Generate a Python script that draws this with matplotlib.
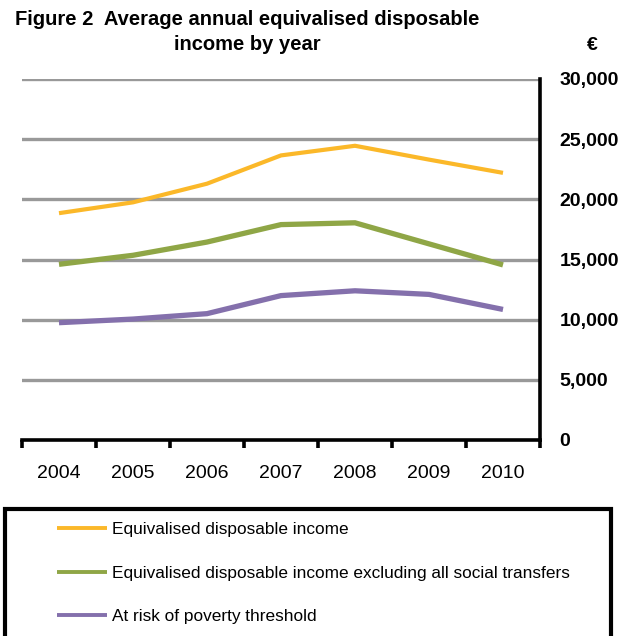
import matplotlib
matplotlib.use("Agg")
import matplotlib.pyplot as plt
from matplotlib.patches import Rectangle
from matplotlib.ticker import FuncFormatter, FixedLocator

plt.rcParams['font.family'] = ['Liberation Sans', 'DejaVu Sans']

years = ["2004", "2005", "2006", "2007", "2008", "2009", "2010"]
disposable = [18850, 19750, 21300, 23650, 24450, 23300, 22200]
excl_transfers = [14600, 15350, 16450, 17900, 18050, 16300, 14550]
poverty_threshold = [9750, 10050, 10500, 12000, 12400, 12100, 10850]
series_names = ["Equivalised disposable income",
                "Equivalised disposable income excluding all social transfers",
                "At risk of poverty threshold"]
colors = ["#FBB829", "#8FA646", "#8470AC"]
widths = [3.0, 3.8, 3.8]
yticks = [0, 5000, 10000, 15000, 20000, 25000, 30000]

W, H = 622, 636
fig = plt.figure(figsize=(W / 100, H / 100), dpi=100)
ax = fig.add_axes([22 / W, 1 - 440 / H, (540 - 22) / W, (440 - 79) / H])

x = list(range(len(years)))
for vals, c, lw, name in zip([disposable, excl_transfers, poverty_threshold], colors, widths, series_names):
    ax.plot(x, vals, color=c, lw=lw, label=name, solid_capstyle='butt', solid_joinstyle='miter')

ax.set_xlim(-0.5, len(years) - 0.5)
ax.set_ylim(0, 30000)

for v in yticks[1:]:
    ax.axhline(v, color="#999999", lw=2.4, zorder=0)

ax.spines['left'].set_visible(False)
ax.spines['top'].set_visible(False)
ax.spines['right'].set_linewidth(2.6)
ax.spines['bottom'].set_linewidth(2.6)
ax.spines['right'].set_capstyle('projecting')

ax.yaxis.tick_right()
ax.set_yticks(yticks)
ax.yaxis.set_major_formatter(FuncFormatter(lambda v, p: f"{int(v):,}"))
ax.tick_params(axis='y', length=0, pad=14, labelsize=14)
for lab in ax.get_yticklabels():
    lab.set_fontweight('bold')

ax.set_xticks(x)
ax.set_xticklabels(years)
ax.tick_params(axis='x', which='major', length=0, pad=18, labelsize=14)
ax.xaxis.set_minor_locator(FixedLocator([i - 0.5 for i in range(len(years) + 1)]))
ax.tick_params(axis='x', which='minor', length=6, width=2.6, direction='out')

fig.text(247 / W, 1 - 10 / H, "Figure 2  Average annual equivalised disposable\nincome by year",
         ha='center', va='top', fontsize=14.5, fontweight='bold', linespacing=1.4)
fig.text(592 / W, 1 - 46 / H, "€", ha='center', va='center', fontsize=14, fontweight='bold')

# legend box
box = Rectangle((5 / W, -0.05), (611 - 5) / W, (1 - 509 / H) + 0.05, transform=fig.transFigure,
                fill=False, edgecolor='black', lw=3)
fig.add_artist(box)
handles, labels = ax.get_legend_handles_labels()
leg = fig.legend(handles, labels, loc='upper left', bbox_to_anchor=(57 / W, 1 - 522 / H),
                 frameon=False, fontsize=12.4, handlelength=2.9, handletextpad=0.3, labelspacing=1.65,
                 borderpad=0, borderaxespad=0)
for line in leg.get_lines():
    line.set_linewidth(2.8)

fig.savefig("out.png", dpi=100)
